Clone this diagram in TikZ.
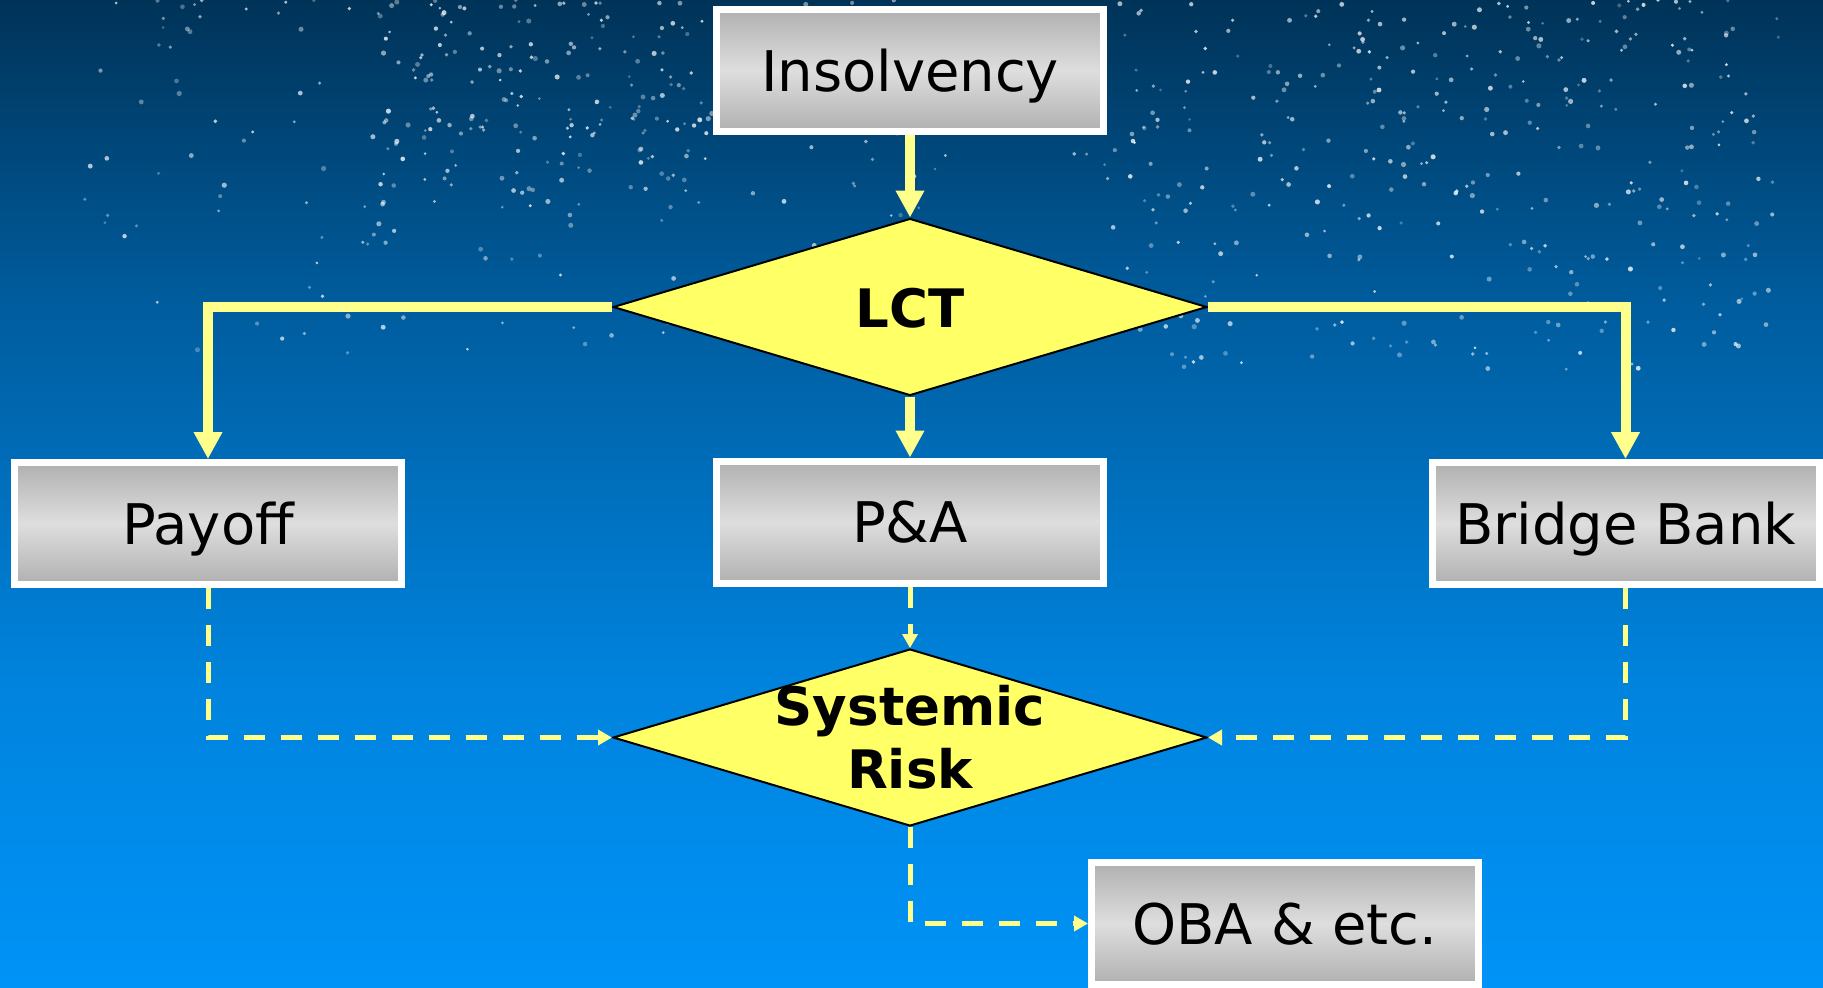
\documentclass[tikz,border=0pt]{standalone}
\usepackage{fontspec}
\setmainfont{DejaVu Sans}
\usetikzlibrary{shapes.geometric,arrows.meta}

\definecolor{skytop}{RGB}{0,51,88}
\definecolor{skyhigh}{RGB}{0,92,157}
\definecolor{skylow}{RGB}{0,131,221}
\definecolor{skybot}{RGB}{0,147,247}
\definecolor{boxedge}{RGB}{176,176,176}
\definecolor{boxmid}{RGB}{222,222,222}
\definecolor{diafill}{RGB}{255,255,102}
\definecolor{flow}{RGB}{255,255,140}

% sky background: dark navy at the top, bright blue at the bottom
\pgfdeclareverticalshading{sky}{100bp}{%
  color(0bp)=(skybot); color(25bp)=(skybot);
  color(40.55bp)=(skylow); color(59.8bp)=(skyhigh);
  color(75bp)=(skytop); color(100bp)=(skytop)}

\begin{document}
\begin{tikzpicture}[x=0.5pt,y=-0.5pt,
  box/.style={rectangle, draw=white, line width=3.5pt,
    minimum width=193.5pt, minimum height=61pt, inner sep=0pt,
    top color=boxedge, bottom color=boxedge, middle color=boxmid,
    text height=20.5pt, text depth=0pt,
    font=\fontsize{28}{34}\selectfont},
  decision/.style={diamond, draw=black, line width=1pt, fill=diafill,
    minimum width=297pt, minimum height=88.5pt, inner sep=0pt},
  dtext/.style={font=\fontsize{26.5}{31.5}\selectfont\bfseries, align=center,
    inner sep=0pt},
  flowsolid/.style={draw=flow, line width=5pt,
    -{Triangle[length=13.5pt,width=13.5pt]}},
  flowdash/.style={draw=flow, line width=2.5pt, dash pattern=on 10.5pt off 8pt,
    -{Triangle[length=7pt,width=7.5pt]}},
  star/.style={fill=white}
]
\useasboundingbox (0,0) rectangle (1823,987);
\shade[shading=sky] (0,0) rectangle (1823,987);

% scattered stars over the whole upper sky
\pgfmathsetseed{4242}
\foreach \i in {1,...,300}{
  \pgfmathsetmacro{\sx}{80+rnd*1700}
  \pgfmathsetmacro{\sy}{360*rnd^1.3}
  \pgfmathsetmacro{\so}{0.25+0.5*rnd}
  \pgfmathsetmacro{\sr}{0.7+0.6*rnd}
  \fill[star, opacity=\so] (\sx,\sy) circle[radius=\sr pt];
}
% denser patch left of the top box
\foreach \i in {1,...,160}{
  \pgfmathsetmacro{\sx}{380+rnd*340}
  \pgfmathsetmacro{\sy}{210*rnd^1.2}
  \pgfmathsetmacro{\so}{0.3+0.5*rnd}
  \pgfmathsetmacro{\sr}{0.7+0.6*rnd}
  \fill[star, opacity=\so] (\sx,\sy) circle[radius=\sr pt];
}
% denser patch in the upper right
\foreach \i in {1,...,260}{
  \pgfmathsetmacro{\sx}{1120+rnd*640}
  \pgfmathsetmacro{\sy}{370*rnd^1.1}
  \pgfmathsetmacro{\so}{0.3+0.5*rnd}
  \pgfmathsetmacro{\sr}{0.7+0.6*rnd}
  \fill[star, opacity=\so] (\sx,\sy) circle[radius=\sr pt];
}

% nodes
\node[box] (ins) at (910,70.5) {Insolvency};
\node[decision, label={[dtext, text height=20pt, text depth=0pt]center:LCT}] (lct) at (910,307) {};
\node[box] (payoff) at (208,523.5) {Payoff};
\node[box] (pa) at (910,522) {P\&A};
\node[box] (bridge) at (1625.5,523.5) {Bridge Bank};
\node[decision, label={[dtext]center:{Systemic\\Risk}}] (risk) at (910,737.5) {};
\node[box] (oba) at (1285,923.5) {OBA \& etc.};

% solid connectors
\draw[flowsolid] (ins) -- (lct);
\draw[flowsolid] (lct.west) -| (payoff.north);
\draw[flowsolid] (lct.east) -| (bridge.north);
\draw[flowsolid] (lct) -- (pa);

% dashed connectors
\draw[flowdash] (pa) -- (risk);
\draw[flowdash] (payoff.south) |- (risk.west);
\draw[flowdash] (bridge.south) |- (risk.east);
\draw[flowdash] (risk.south) |- (oba.west);
\end{tikzpicture}
\end{document}
